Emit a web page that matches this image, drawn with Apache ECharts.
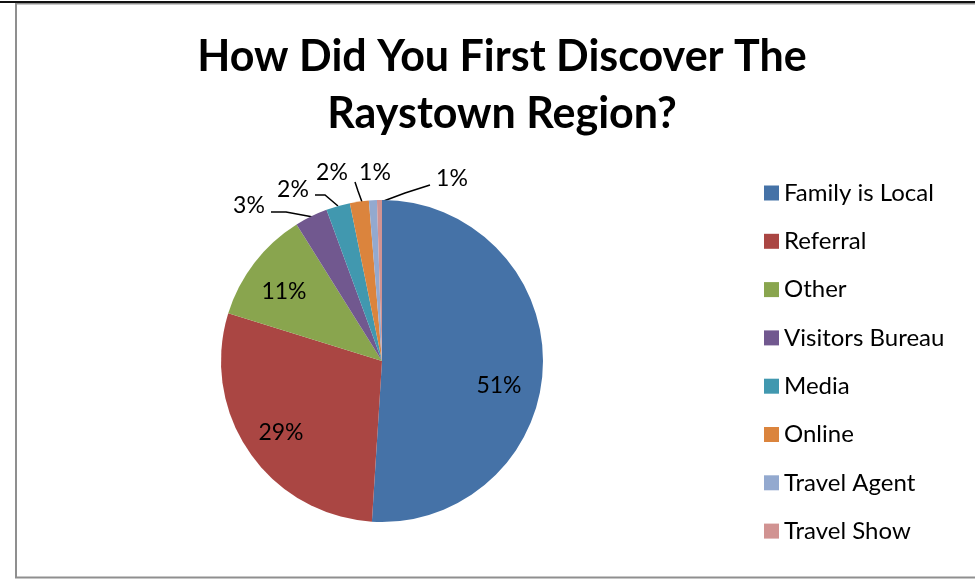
<!DOCTYPE html>
<html>
<head>
<meta charset="utf-8">
<script src="https://cdn.jsdelivr.net/npm/echarts@6/dist/echarts.min.js"></script>
<style>
html,body{margin:0;padding:0;background:#fff;}
#chart{width:975px;height:579px;}
</style>
</head>
<body>
<div id="chart"></div>
<script>
// ---- data ----
const categories = ['Family is Local','Referral','Other','Visitors Bureau','Media','Online','Travel Agent','Travel Show'];
const shares = [51.0, 28.8, 11.3, 3.3, 2.4, 1.9, 0.8, 0.5];
const titleLines = ['How Did You First Discover The', 'Raystown Region?'];

// ---- style ----
const colors = ['#4572A7','#AA4643','#89A54E','#71588F','#4198AF','#DB843D','#93A9CF','#D19392'];
const FONT = 'Lato';
// label anchor spots and leader lines (annotation styling only)
const labelSpots = {
  'Family is Local': [499, 386],
  'Referral': [281, 433],
  'Other': [284, 292],
  'Visitors Bureau': [249, 206],
  'Media': [293, 190],
  'Online': [332, 173],
  'Travel Agent': [375, 173],
  'Travel Show': [452, 179]
};
const leaderLines = {
  'Visitors Bureau': [[271, 212], [286, 212], [313, 217]],
  'Media': [[315, 195], [325, 195], [338, 206]],
  'Online': [[355, 182], [358, 191], [362, 202]],
  'Travel Show': [[430, 185], [405, 193], [381, 202]]
};

const chart = echarts.init(document.getElementById('chart'));
const data = categories.map((c, i) => ({
  name: c,
  value: shares[i],
  labelLine: { show: !!leaderLines[c] }
}));

chart.setOption({
  animation: false,
  color: colors,
  title: {
    text: titleLines.join('\n'),
    left: 497,
    textAlign: 'center',
    top: 24,
    textStyle: { fontFamily: FONT, fontWeight: 'bold', fontSize: 43, lineHeight: 57, color: '#000' }
  },
  legend: {
    orient: 'vertical',
    left: 759,
    top: 176,
    icon: 'rect',
    itemWidth: 15,
    itemHeight: 15,
    itemGap: 24.3,
    data: categories,
    textStyle: { fontFamily: FONT, fontSize: 24, lineHeight: 24, color: '#000' }
  },
  graphic: [
    { type: 'rect', shape: { x: 16, y: 3.5, width: 975, height: 574 }, style: { fill: 'none', stroke: '#8f8f8f', lineWidth: 2 }, silent: true },
    { type: 'line', shape: { x1: 0, y1: 2, x2: 975, y2: 2 }, style: { stroke: '#111', lineWidth: 2 }, silent: true }
  ],
  series: [{
    type: 'pie',
    center: [382, 361],
    radius: 161,
    startAngle: 90,
    clockwise: true,
    avoidLabelOverlap: false,
    data: data,
    itemStyle: { borderWidth: 0 },
    label: {
      show: true,
      position: 'outside',
      formatter: p => Math.round(p.value) + '%',
      fontFamily: FONT,
      fontSize: 23,
      color: '#000'
    },
    labelLine: { show: true, length: 10, length2: 10, lineStyle: { color: '#000', width: 1.5 } },
    labelLayout: function (params) {
      const name = categories[params.dataIndex];
      const s = labelSpots[name];
      const out = { x: s[0], y: s[1], align: 'center', verticalAlign: 'middle' };
      if (leaderLines[name]) out.labelLinePoints = leaderLines[name];
      return out;
    },
    emphasis: { disabled: true }
  }]
});
</script>
</body>
</html>
